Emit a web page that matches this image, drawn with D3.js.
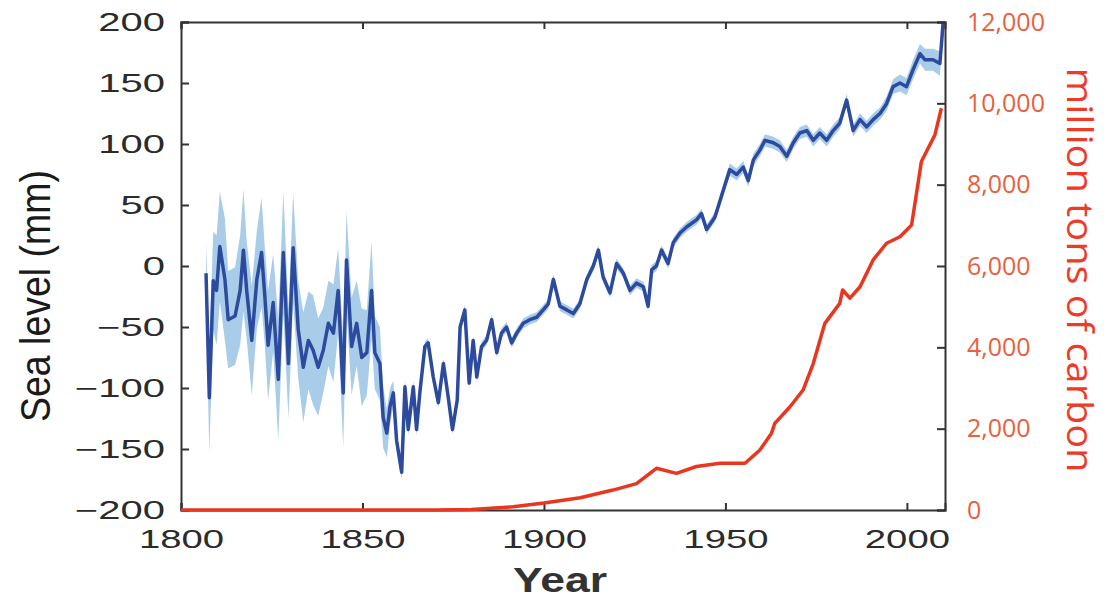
<!DOCTYPE html>
<html>
<head>
<meta charset="utf-8">
<title>Sea level and carbon emissions</title>
<script src="https://d3js.org/d3.v7.min.js"></script>
<style>
    body { margin: 0; background: #fff; }
    svg text { font-family: "Liberation Sans", Arial, sans-serif; }
</style>
</head>
<body>
<div id="chart"></div>
<script>
// sea level reconstruction (mm)
var years = [1806.9, 1807.8, 1808.9, 1809.8, 1810.7, 1812.1, 1813.0, 1814.9, 1816.3, 1817.2,
    1818.1, 1819.5, 1820.9, 1822.2, 1823.1, 1824.0, 1825.4, 1826.8, 1828.2, 1829.6,
    1830.9, 1832.3, 1833.7, 1835.1, 1836.4, 1837.8, 1839.2, 1840.6, 1842.0, 1843.3,
    1844.7, 1845.6, 1847.0, 1848.4, 1849.8, 1851.2, 1852.5, 1853.4, 1854.8, 1855.7,
    1856.7, 1857.6, 1858.5, 1859.4, 1860.8, 1861.7, 1862.6, 1864.0, 1864.9, 1865.8,
    1867.2, 1868.1, 1869.5, 1870.9, 1872.3, 1873.6, 1874.8, 1876.1, 1876.9, 1878.2,
    1879.4, 1880.5, 1881.5, 1882.8, 1884.2, 1885.6, 1887.0, 1888.3, 1889.7, 1891.1,
    1892.5, 1894.3, 1896.1, 1898.0, 1899.8, 1901.2, 1902.6, 1904.4, 1906.3, 1908.1,
    1909.9, 1911.8, 1913.6, 1915.0, 1916.3, 1918.2, 1920.0, 1921.9, 1923.7, 1925.5,
    1927.4, 1928.7, 1929.7, 1931.0, 1932.4, 1934.2, 1935.6, 1937.5, 1939.3, 1942.1,
    1943.4, 1944.8, 1947.1, 1949.4, 1951.2, 1953.1, 1954.9, 1956.3, 1957.7, 1959.5,
    1960.9, 1963.2, 1965.0, 1966.9, 1968.7, 1970.5, 1972.4, 1974.2, 1976.0, 1977.9,
    1979.7, 1981.5, 1983.4, 1985.2, 1987.1, 1988.9, 1990.7, 1992.6, 1994.4, 1996.2,
    1998.1, 1999.9, 2001.7, 2003.6, 2005.0, 2007.2, 2009.1, 2010.0];
var seaLevel = [-6, -108, -12, -20, 16, -11, -44, -41, -20, 13,
    -20, -61, -11, 11, -25, -65, -30, -93, 11, -80,
    15, -52, -83, -61, -69, -83, -69, -47, -55, -20,
    -104, 5, -66, -47, -75, -71, -20, -71, -80, -124,
    -137, -115, -104, -143, -169, -99, -134, -99, -134, -104,
    -66, -63, -91, -112, -80, -107, -134, -110, -50, -36,
    -96, -61, -91, -66, -61, -44, -71, -55, -50, -63,
    -55, -47, -44, -42, -36, -31, -11, -33, -36, -39,
    -31, -11, 0, 13, -9, -22, 2, -6, -20, -14,
    -17, -33, -3, 0, 13, 2, 19, 27, 32, 38,
    43, 30, 40, 62, 79, 75, 81, 70, 87, 95,
    103, 101, 98, 90, 101, 109, 111, 103, 109, 103,
    111, 117, 136, 111, 120, 114, 120, 125, 133, 147,
    150, 147, 161, 174, 169, 169, 166, 200];
var seaErr = [25, 45, 40, 45, 45, 50, 40, 40, 45, 50,
    40, 45, 40, 45, 40, 45, 40, 50, 50, 45,
    45, 40, 45, 40, 45, 40, 35, 35, 40, 35,
    45, 40, 40, 35, 40, 35, 40, 30, 30, 25,
    20, 15, 10, 8, 6, 6, 5, 5, 5, 5,
    4, 4, 4, 4, 4, 4, 4, 4, 4, 4,
    4, 4, 4, 4, 4, 4, 4, 4, 4, 4,
    4, 4, 4, 4, 4, 4, 4, 4, 4, 4,
    4, 4, 4, 4, 4, 4, 4, 4, 4, 4,
    4, 4, 4, 4, 4, 4, 4, 4, 4, 4,
    4, 4, 4, 4, 5, 5, 5, 5, 5, 5,
    5, 5, 5, 5, 5, 5, 5, 5, 5, 5,
    5, 5, 5, 5, 5, 5, 5, 5, 6, 6,
    7, 7, 8, 8, 9, 9, 10, 2];

// carbon emissions (million tons of carbon)
var carbonYears = [1800, 1850, 1870, 1880, 1891.5, 1900, 1910, 1919, 1925.5, 1931,
    1936.5, 1942, 1948.5, 1955.4, 1959.5, 1962.7, 1963.6, 1967.8, 1971.4, 1974.2,
    1977.4, 1981.5, 1982.3, 1984.3, 1987.1, 1990.7, 1994.4, 1998.1, 2001.3, 2004,
    2007.7, 2009.5];
var carbon = [0, 0, 0, 10, 80, 170, 300, 490, 650, 1025,
    900, 1070, 1150, 1150, 1475, 1890, 2130, 2540, 2950, 3600,
    4590, 5080, 5410, 5210, 5490, 6150, 6560, 6720, 7010, 8570,
    9220, 9880];

var yearTicks = [1800, 1850, 1900, 1950, 2000];
var seaTicks = [-200, -150, -100, -50, 0, 50, 100, 150, 200];
var carbonTicks = [0, 2000, 4000, 6000, 8000, 10000, 12000];

var width = 1109, height = 599;
var margin = {top: 22, right: 164, bottom: 89, left: 181};
var w = width - margin.left - margin.right;
var h = height - margin.top - margin.bottom;

var svg = d3.select("#chart").append("svg")
    .attr("width", width)
    .attr("height", height);
var g = svg.append("g")
    .attr("transform", "translate(" + margin.left + "," + margin.top + ")");

var x = d3.scaleLinear().domain([1800, 2010.5]).range([0, w]);
var y = d3.scaleLinear().domain([-200, 200]).range([h, 0]);
var y2 = d3.scaleLinear().domain([0, 12000]).range([h, 0]);

var seaData = years.map(function(d, i) {
    return {year: d, mm: seaLevel[i], err: seaErr[i]};
});
var carbonData = carbonYears.map(function(d, i) {
    return {year: d, v: carbon[i]};
});

// uncertainty band + sea level line
g.append("path")
    .datum(seaData)
    .attr("fill", "#a9cde9")
    .attr("d", d3.area()
        .x(function(d) { return x(d.year); })
        .y0(function(d) { return y(d.mm - d.err); })
        .y1(function(d) { return y(d.mm + d.err); }));

g.append("path")
    .datum(seaData)
    .attr("fill", "none")
    .attr("stroke", "#2d4b9e")
    .attr("stroke-width", 3.5)
    .attr("stroke-linejoin", "round")
    .attr("d", d3.line()
        .x(function(d) { return x(d.year); })
        .y(function(d) { return y(d.mm); }));

// axes (ticks point inward)
function stretch(sel, k) {
    sel.selectAll(".tick text").each(function() {
        var len = this.getComputedTextLength();
        d3.select(this).attr("textLength", len * k).attr("lengthAdjust", "spacingAndGlyphs");
    });
}

var axLeft = g.append("g")
    .call(d3.axisLeft(y).tickValues(seaTicks).tickSize(-8).tickPadding(16));
axLeft.selectAll("text").style("font-size", "25px").attr("fill", "#2b2b2b");
stretch(axLeft, 1.6);

var axBottom = g.append("g")
    .attr("transform", "translate(0," + h + ")")
    .call(d3.axisBottom(x).tickValues(yearTicks).tickFormat(d3.format("d")).tickSize(-7).tickPadding(20));
axBottom.selectAll("text").style("font-size", "25px").attr("fill", "#2b2b2b");
stretch(axBottom, 1.53);

g.append("g")
    .call(d3.axisTop(x).tickValues(yearTicks).tickSize(-7).tickFormat(""));

var axRight = g.append("g")
    .attr("transform", "translate(" + w + ",0)")
    .call(d3.axisRight(y2).tickValues(carbonTicks).tickSize(-8).tickPadding(22).tickFormat(d3.format(",")));
axRight.selectAll("text")
    .style("font-family", "'Open Sans', sans-serif")
    .style("font-size", "25px")
    .attr("fill", "#e9603e");

g.selectAll(".domain").attr("stroke", "#333").attr("stroke-width", 2);
g.selectAll(".tick line").attr("stroke", "#333").attr("stroke-width", 2);

// carbon line on top
g.append("path")
    .datum(carbonData)
    .attr("fill", "none")
    .attr("stroke", "#e8361f")
    .attr("stroke-width", 3.5)
    .attr("stroke-linejoin", "round")
    .attr("d", d3.line()
        .x(function(d) { return x(d.year); })
        .y(function(d) { return y2(d.v); }));

// axis titles
svg.append("text")
    .attr("transform", "translate(50,296) rotate(-90) scale(1,1.35)")
    .attr("text-anchor", "middle")
    .attr("textLength", 252)
    .attr("lengthAdjust", "spacingAndGlyphs")
    .style("font-size", "32px")
    .attr("fill", "#1a1a1a")
    .text("Sea level (mm)");

svg.append("text")
    .attr("x", 560)
    .attr("y", 592)
    .attr("text-anchor", "middle")
    .attr("textLength", 94)
    .attr("lengthAdjust", "spacingAndGlyphs")
    .style("font-size", "35px")
    .style("font-weight", "bold")
    .attr("fill", "#333")
    .text("Year");

svg.append("text")
    .attr("transform", "translate(1067,270) rotate(90)")
    .attr("text-anchor", "middle")
    .attr("textLength", 405)
    .attr("lengthAdjust", "spacingAndGlyphs")
    .style("font-family", "'Open Sans', sans-serif")
    .style("font-size", "36px")
    .attr("fill", "#ee3a28")
    .text("million tons of carbon");
</script>
</body>
</html>
